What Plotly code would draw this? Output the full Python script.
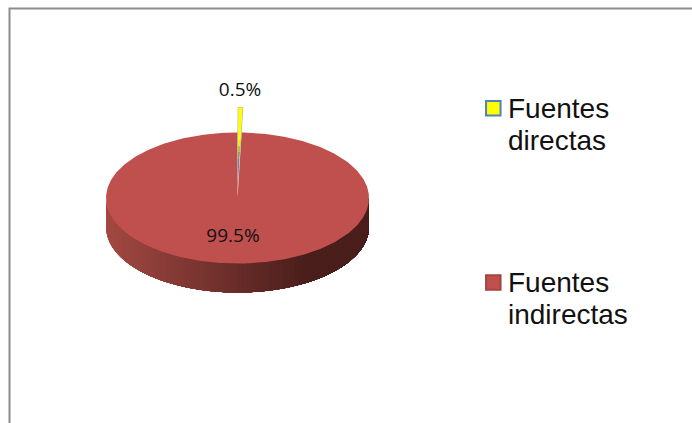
import math
import plotly.graph_objects as go

# Share of sources used, in percent
categories = ["Fuentes directas", "Fuentes indirectas"]
legend_lines = [["Fuentes", "directas"], ["Fuentes", "indirectas"]]
shares = [0.5, 99.5]
share_labels = ["0.5%", "99.5%"]
slice_colors = ["#FFFF00", "#C0504D"]
swatch_edges = ["#4F81BD", "#A5443F"]

WIDTH, HEIGHT = 692, 423
CX, CY, RX, RY = 237.5, 198.0, 131.5, 65.5
DEPTH = 29.0
LIFT = 25.0          # how far the small wedge is pulled out of the pie
N_BANDS = 90

LEGEND_X = 493.3
LEGEND_TEXT_X = 508.0
LEGEND_Y = [108.3, 282.5]
LEGEND_TEXT_DY = 2.5
LINE_STEP = 32.0


def mix(c1, c2, t):
    return "rgb(%d,%d,%d)" % tuple(round(a + (b - a) * t) for a, b in zip(c1, c2))


def rim(angle, dy=0.0):
    """Point on the pie's rim, angle measured clockwise from 12 o'clock."""
    return CX + RX * math.sin(angle), CY - RY * math.cos(angle) + dy


fig = go.Figure()


def polygon(xs, ys, color):
    fig.add_trace(go.Scatter(x=xs, y=ys, mode="lines", fill="toself", fillcolor=color,
                             line=dict(width=0), hoverinfo="skip", showlegend=False))


# Side wall of the large slice, shaded left to right. Each band runs on to the
# right end so neighbouring bands leave no seam between them.
side_left, side_dark = (163, 72, 66), (74, 30, 27)
for i in range(N_BANDS):
    a0 = 1.5 * math.pi - math.pi * i / N_BANDS
    arc = [rim(a0 - (a0 - math.pi / 2) * k / 40) for k in range(41)]
    xs = [p[0] for p in arc] + [p[0] for p in reversed(arc)]
    ys = [p[1] for p in arc] + [p[1] + DEPTH for p in reversed(arc)]
    t = min(1.0, max(0.0, (arc[0][0] - (CX - RX)) / (RX * 1.5)))
    polygon(xs + xs[:1], ys + ys[:1], mix(side_left, side_dark, t))

# Top face of the large slice, sized from its share
total = sum(shares)
start = shares[0] / total * 2 * math.pi
steps = 360
pts = [rim(start + (2 * math.pi - start) * k / steps) for k in range(steps + 1)]
polygon([CX] + [p[0] for p in pts] + [CX], [CY] + [p[1] for p in pts] + [CY], slice_colors[1])

# Small wedge, lifted out of the pie and fading down toward the apex
sweep = shares[0] / total * 2 * math.pi
tip_l = (CX + 0.8, CY - RY - LIFT)
tip_r = (CX + RX * math.sin(sweep) + 1.0, CY - RY - LIFT)
apex = (CX, CY - 6)

# Thin grey-blue edge round the upper part of the wedge
edge_t = 0.5
fig.add_trace(go.Scatter(
    x=[tip_l[0] + (apex[0] - tip_l[0]) * edge_t, tip_l[0], tip_r[0],
       tip_r[0] + (apex[0] - tip_r[0]) * edge_t],
    y=[tip_l[1] + (apex[1] - tip_l[1]) * edge_t, tip_l[1], tip_r[1],
       tip_r[1] + (apex[1] - tip_r[1]) * edge_t],
    mode="lines", line=dict(color="#A9B4B8", width=1.2), hoverinfo="skip", showlegend=False))

stops = [(0.0, "#FFFF00"), (0.38, "#F2EE10"), (0.46, "#B9BE3A"), (0.52, "#8F9A5A"),
         (0.6, "#6F7F9A"), (0.72, "#77708F"), (0.85, "#94566A"), (1.0, "#A8524F")]
for (t0, c0), (t1, _) in zip(stops[:-1], stops[1:]):
    xl0 = tip_l[0] + (apex[0] - tip_l[0]) * t0
    xr0 = tip_r[0] + (apex[0] - tip_r[0]) * t0
    xl1 = tip_l[0] + (apex[0] - tip_l[0]) * t1
    xr1 = tip_r[0] + (apex[0] - tip_r[0]) * t1
    y0 = tip_l[1] + (apex[1] - tip_l[1]) * t0
    y1 = tip_l[1] + (apex[1] - tip_l[1]) * t1
    polygon([xl0, xr0, xr1, xl1, xl0], [y0, y0, y1, y1, y0], c0)

# Value labels
fig.add_trace(go.Scatter(x=[240, 233], y=[91.5, 237.5], mode="text", text=share_labels,
                         textposition="middle center", showlegend=False, hoverinfo="skip",
                         textfont=dict(family="Open Sans", size=19, color="#111111")))

# Legend: square swatches with two lines of text each
for name, lines, color, edge, y in zip(categories, legend_lines, slice_colors, swatch_edges, LEGEND_Y):
    fig.add_trace(go.Scatter(x=[LEGEND_X], y=[y], mode="markers", name=name, showlegend=False,
                             marker=dict(symbol="square", size=14.5, color=color,
                                         line=dict(color=edge, width=2))))
    fig.add_trace(go.Scatter(x=[LEGEND_TEXT_X, LEGEND_TEXT_X],
                             y=[y + LEGEND_TEXT_DY, y + LEGEND_TEXT_DY + LINE_STEP], mode="text",
                             text=lines, textposition="middle right", showlegend=False,
                             hoverinfo="skip",
                             textfont=dict(family="Liberation Sans", size=28, color="#111111")))

# Chart frame: only the top and left edges fall inside the page
fig.add_trace(go.Scatter(x=[9.5, 9.5, 692], y=[423, 8.5, 8.5], mode="lines",
                         line=dict(color="#8C8C8C", width=2), showlegend=False, hoverinfo="skip"))

fig.update_layout(
    width=WIDTH, height=HEIGHT, margin=dict(l=0, r=0, t=0, b=0),
    paper_bgcolor="white", plot_bgcolor="white", showlegend=False,
    xaxis=dict(range=[0, WIDTH], visible=False, fixedrange=True),
    yaxis=dict(range=[HEIGHT, 0], visible=False, fixedrange=True),
)
fig.write_html("out.html")
